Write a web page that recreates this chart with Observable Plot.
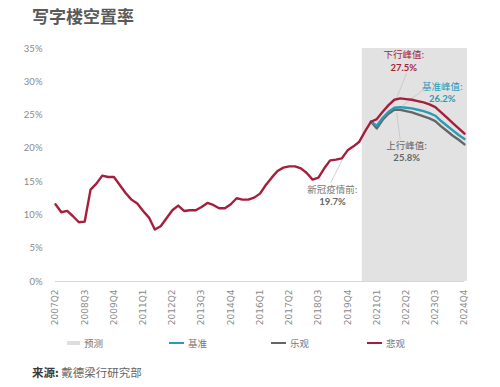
<!DOCTYPE html>
<html><head><meta charset="utf-8">
<script src="https://cdn.jsdelivr.net/npm/d3@7"></script>
<script src="https://cdn.jsdelivr.net/npm/@observablehq/plot@0.6"></script>
<style>
body{margin:0;background:#fff;}
#wrap{position:relative;width:500px;height:387px;overflow:hidden;font-family:Lato,"Noto Sans CJK SC",sans-serif;}
#title{position:absolute;left:32px;top:5px;font-size:17px;font-weight:bold;color:#5a5a5a;font-family:"Noto Sans CJK SC",sans-serif;line-height:22px;}
#chart{position:absolute;left:0;top:30px;}
.leg{position:absolute;top:336px;font-size:9.5px;color:#777;font-family:"Noto Sans CJK SC",sans-serif;line-height:14px;display:flex;align-items:center;}
.sw{display:inline-block;width:15px;height:2.5px;margin-right:4px;}
#src{position:absolute;left:32px;top:364px;font-size:11.5px;color:#666;font-family:"Noto Sans CJK SC",sans-serif;line-height:16px;}
#src b{color:#3a3a3a;}
</style></head><body>
<div id="wrap">
<div id="title">写字楼空置率</div>
<div id="chart"></div>
<div class="leg" style="left:67px"><span class="sw" style="background:#dedede;height:4px;width:13px"></span>预测</div>
<div class="leg" style="left:169px"><span class="sw" style="background:#2a9ab6"></span>基准</div>
<div class="leg" style="left:271px"><span class="sw" style="background:#666666"></span>乐观</div>
<div class="leg" style="left:367px"><span class="sw" style="background:#a51f3c"></span>悲观</div>
<div id="src"><b>来源:</b> 戴德梁行研究部</div>
</div>
<script>
// quarterly categories 2007Q2 .. 2024Q4
const quarters = [];
for (let y = 2007; y <= 2024; y++) for (let q = 1; q <= 4; q++) if (!(y === 2007 && q === 1)) quarters.push(y + "Q" + q);
const tickLabels = ["2007Q2","2008Q3","2009Q4","2011Q1","2012Q2","2013Q3","2014Q4","2016Q1","2017Q2","2018Q3","2019Q4","2021Q1","2022Q2","2023Q3","2024Q4"];
const yTicks = [0,5,10,15,20,25,30,35];
const forecastStart = "2020Q3";
// historical vacancy (%) from 2007Q2
const history = [11.6,10.4,10.6,9.8,8.9,9.0,13.8,14.7,15.9,15.7,15.7,14.5,13.3,12.3,11.7,10.6,9.6,7.8,8.3,9.5,
  10.7,11.4,10.6,10.7,10.7,11.2,11.8,11.5,11.0,11.0,11.6,12.5,12.3,12.3,12.6,13.2,14.5,15.6,16.6,17.1,
  17.3,17.3,17.0,16.3,15.3,15.6,17.0,18.2,18.3,18.5,19.7,20.3,21.0,22.6,24.0];
// scenarios from 2020Q4 (last history point) to 2024Q4
const scenarioStart = "2020Q4";
const pessimistic = [24.0,24.4,25.5,26.5,27.3,27.5,27.4,27.3,27.1,26.9,26.6,26.2,25.4,24.6,23.8,23.0,22.2];
const base        = [24.0,23.4,24.6,25.5,26.1,26.2,26.1,26.0,25.8,25.6,25.3,24.9,24.1,23.4,22.7,22.0,21.4];
const optimistic  = [24.0,23.0,24.3,25.2,25.8,25.8,25.6,25.4,25.1,24.8,24.5,24.1,23.3,22.6,21.9,21.3,20.6];

const s0 = quarters.indexOf(scenarioStart);
const hist = history.map((v, i) => ({i, v}));
const ser = arr => arr.map((v, k) => ({i: s0 + k, v}));
const fStart = quarters.indexOf(forecastStart);
const last = quarters.length - 1;

const red = "#a51f3c", teal = "#2a9ab6", gray = "#666666";
const cjk = "'Noto Sans CJK SC', sans-serif";
const num = "Lato, 'Noto Sans CJK SC', sans-serif";

// annotations (data units: quarter index, percent)
const notes = [
  {i: 59.6, v: 34.0, t: "下行峰值:", c: red, w: "normal", f: cjk},
  {i: 59.6, v: 32.1, t: "27.5%", c: red, w: "bold", f: num},
  {i: 66.2, v: 29.2, t: "基准峰值:", c: teal, w: "normal", f: cjk},
  {i: 66.2, v: 27.4, t: "26.2%", c: teal, w: "bold", f: num},
  {i: 60.1, v: 20.3, t: "上行峰值:", c: gray, w: "normal", f: cjk},
  {i: 60.1, v: 18.5, t: "25.8%", c: gray, w: "bold", f: num},
  {i: 47.4, v: 13.8, t: "新冠疫情前:", c: "#777", w: "normal", f: cjk},
  {i: 47.4, v: 12.0, t: "19.7%", c: "#666", w: "bold", f: num}
];
const leaders = [
  {i1: 60.1, v1: 31.3, i2: 58.4, v2: 27.6},
  {i1: 62.8, v1: 28.7, i2: 59.4, v2: 26.4},
  {i1: 59.0, v1: 21.3, i2: 58.4, v2: 25.3},
  {i1: 47.1, v1: 14.8, i2: 49.6, v2: 19.2}
];

const chart = Plot.plot({
  width: 500, height: 300,
  marginLeft: 55, marginRight: 36, marginTop: 18, marginBottom: 49,
  style: {background: "transparent", color: "#8a8a8a", overflow: "visible"},
  x: {domain: [0, last]},
  y: {domain: [0, 35]},
  marks: [
    Plot.rect([{a: fStart - 0.5, b: last + 0.5}], {x1: "a", x2: "b", y1: 0, y2: 35, fill: "#e2e2e2"}),
    Plot.ruleY([0], {stroke: "#d6d6d6", strokeWidth: 1}),
    Plot.axisY({ticks: yTicks, tickFormat: d => d + "%", tickSize: 0, tickPadding: 13, fontSize: 9.5, fontFamily: "Lato, sans-serif", label: null}),
    Plot.axisX({ticks: tickLabels.map(t => quarters.indexOf(t)), tickFormat: i => quarters[i], tickRotate: -90, tickSize: 0, tickPadding: 8, fontSize: 9, fontFamily: "'DejaVu Sans', sans-serif", label: null}),
    Plot.link(leaders, {x1: "i1", y1: "v1", x2: "i2", y2: "v2", stroke: "#c4c4c4", strokeWidth: 0.8}),
    Plot.line(ser(optimistic), {x: "i", y: "v", stroke: gray, strokeWidth: 2.4}),
    Plot.line(ser(base), {x: "i", y: "v", stroke: teal, strokeWidth: 2.4}),
    Plot.line(ser(pessimistic), {x: "i", y: "v", stroke: red, strokeWidth: 2.4}),
    Plot.line(hist, {x: "i", y: "v", stroke: red, strokeWidth: 2.4}),
    ...notes.map(n => Plot.text([n], {x: "i", y: "v", text: "t", fill: n.c, fontWeight: n.w, fontFamily: n.f, fontSize: 9.5}))
  ]
});
document.getElementById("chart").appendChild(chart);
</script>
</body></html>
